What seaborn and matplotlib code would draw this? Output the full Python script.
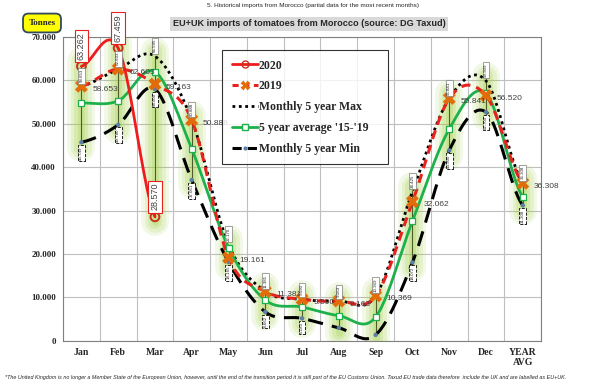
import numpy as np
import pandas as pd
import matplotlib
matplotlib.use("Agg")
import matplotlib.pyplot as plt
import seaborn as sns
from matplotlib.lines import Line2D
from matplotlib.ticker import FuncFormatter

months = ["Jan", "Feb", "Mar", "Apr", "May", "Jun", "Jul", "Aug", "Sep", "Oct", "Nov", "Dec", "YEAR\nAVG"]
y2020 = [63262, 67459, 28570]
y2019 = [58653, 62603, 59163, 50888, 19161, 11381, 9590, 9163, 10369, 32062, 55841, 56520, 36308]
max5 = [58653, 62603, 65595, 50888, 22170, 11381, 9590, 9163, 10369, 34425, 55841, 59909, 36308]
avg5 = [54800, 55300, 62000, 44200, 21500, 9400, 7800, 5800, 5500, 27600, 48800, 57000, 33200]
min5 = [45749, 49780, 58000, 37061, 18165, 6662, 5183, 3000, 1380, 18072, 43900, 52700, 31208]

sns.set_style("white")
plt.rcParams["font.family"] = ["Liberation Serif", "DejaVu Serif"]


def fmt(v, pos=None):
    return f"{int(v):,}".replace(",", ".")


def smooth(vals, n=24):
    # excel-like smoothed line (catmull-rom through the points)
    y = np.asarray(vals, dtype=float)
    p = np.concatenate([[y[0]], y, [y[-1]]])
    xs, ys = [], []
    for i in range(len(y) - 1):
        p0, p1, p2, p3 = p[i], p[i + 1], p[i + 2], p[i + 3]
        m1 = (p2 - p0) / 2
        m2 = (p3 - p1) / 2
        t = np.linspace(0, 1, n, endpoint=(i == len(y) - 2))
        h00 = 2 * t**3 - 3 * t**2 + 1
        h10 = t**3 - 2 * t**2 + t
        h01 = -2 * t**3 + 3 * t**2
        h11 = t**3 - t**2
        xs.append(i + t)
        ys.append(h00 * p1 + h10 * m1 + h01 * p2 + h11 * m2)
    return np.concatenate(xs), np.concatenate(ys)


fig = plt.figure(figsize=(6, 3.9), dpi=100)
ax = fig.add_axes([0.105, 0.126, 0.797, 0.779])

# glow + range lines per month
for i in range(len(months)):
    vals = [y2019[i], max5[i], avg5[i], min5[i]]
    if i < len(y2020):
        vals.append(y2020[i])
    lo, hi = min(vals), max(vals)
    for lw, a in [(20, 0.12), (15, 0.15), (10, 0.18), (5, 0.22)]:
        ax.plot([i, i], [lo - 1200, hi + 1200], color="#9ACD32", lw=lw, alpha=a,
                solid_capstyle="round", zorder=1)
    ax.plot([i, i], [lo, hi], color="#4F5B2B", lw=0.8, zorder=2)

xs, ys = smooth(max5)
ax.plot(xs, ys, color="black", lw=2, ls=(0, (1, 1.3)), zorder=3)
xs, ys = smooth(min5)
ax.plot(xs, ys, color="black", lw=2.2, ls=(0, (5, 3)), zorder=3)
xs, ys = smooth(avg5)
ax.plot(xs, ys, color="#1DB14B", lw=2, zorder=4)
xs, ys = smooth(y2019)
ax.plot(xs, ys, color="#E8231E", lw=2.2, ls=(0, (3, 2)), zorder=5)
xs, ys = smooth(y2020)
ax.plot(xs, ys, color="#EE1C1C", lw=2, zorder=6)

idx = list(range(len(months)))
sns.scatterplot(x=idx, y=min5, ax=ax, color="#5B7FA6", s=10, edgecolor="none", zorder=7)
sns.scatterplot(x=idx, y=avg5, ax=ax, marker="s", s=22, facecolor="white",
                edgecolor="#1DB14B", linewidth=0.9, zorder=7)
sns.scatterplot(x=idx, y=y2019, ax=ax, marker="X", s=85, color="#E26B0A",
                edgecolor="none", zorder=8)
sns.scatterplot(x=idx[:len(y2020)], y=y2020, ax=ax, marker="o", s=40, facecolor="none",
                edgecolor="#C8321C", linewidth=1.4, zorder=8)

# value labels
for i in idx:
    ax.text(i + 0.3, y2019[i] - 700, fmt(y2019[i]), fontsize=6, color="#404040",
            family="Liberation Sans", ha="left", va="center", zorder=9)
    ax.text(i, max5[i] + 900, fmt(max5[i]), rotation=90, fontsize=3.2, family="Liberation Sans",
            ha="center", va="bottom", zorder=9,
            bbox=dict(boxstyle="square,pad=0.3", fc="white", ec="#7F7F7F", lw=0.5))
    if min5[i] > 5000:
        ax.text(i, min5[i] - 900, fmt(min5[i]), rotation=90, fontsize=3.2, family="Liberation Sans",
                ha="center", va="top", zorder=9,
                bbox=dict(boxstyle="square,pad=0.3", fc="white", ec="black", lw=0.6, ls="--"))
for i, v in enumerate(y2020):
    ax.text(i, v + 1500, fmt(v), rotation=90, fontsize=6.5, family="Liberation Sans",
            color="#404040", ha="center", va="bottom", zorder=9, clip_on=False,
            bbox=dict(boxstyle="square,pad=0.25", fc="white", ec="#E8211F", lw=0.8))

ax.set_xlim(-0.5, len(months) - 0.5)
ax.set_ylim(0, 70000)
ax.set_yticks(range(0, 70001, 10000))
ax.yaxis.set_major_formatter(FuncFormatter(fmt))
ax.set_xticks(idx)
ax.set_xticklabels(months, fontweight="bold", fontsize=7)
ax.set_xticks(np.arange(-0.5, len(months), 1), minor=True)
for lab in ax.get_yticklabels():
    lab.set_fontweight("bold")
    lab.set_fontsize(6.5)
ax.tick_params(axis="both", which="both", length=0, pad=5)
ax.grid(True, axis="y", which="major", color="#BFBFBF", lw=0.8, zorder=0)
ax.grid(True, axis="x", which="minor", color="#BFBFBF", lw=0.8, zorder=0)
ax.set_axisbelow(True)
for side in ["top", "right", "bottom"]:
    ax.spines[side].set_color("#808080")
    ax.spines[side].set_linestyle((0, (2, 1)))
    ax.spines[side].set_linewidth(0.8)
ax.spines["left"].set_color("#808080")
ax.spines["left"].set_linewidth(0.8)

handles = [
    Line2D([], [], color="#EE1C1C", lw=2, marker="o", mfc="none", mec="#C8321C", ms=5),
    Line2D([], [], color="#E8231E", lw=2.2, ls=(0, (2, 1.5)), marker="X", mfc="#E26B0A",
           mec="none", ms=7),
    Line2D([], [], color="black", lw=2, ls=(0, (1, 1.3))),
    Line2D([], [], color="#1DB14B", lw=2, marker="s", mfc="white", mec="#1DB14B", ms=4),
    Line2D([], [], color="black", lw=2.2, ls=(0, (3, 2)), marker="o", mfc="#5B7FA6",
           mec="none", ms=3),
]
labels = ["2020", "2019", "Monthly 5 year Max", "5 year average '15-'19", "Monthly 5 year Min"]
leg = ax.legend(handles, labels, loc="upper left", bbox_to_anchor=(0.333, 0.628, 0.347, 0.329),
                mode="expand", borderaxespad=0, frameon=True, fancybox=False,
                prop=dict(family="Liberation Serif", weight="bold", size=8.5),
                labelspacing=0.75, handlelength=2.2, handletextpad=0.1, borderpad=0.8)
leg.get_frame().set_edgecolor("black")
leg.get_frame().set_linewidth(0.8)
leg.set_zorder(10)

fig.text(0.522, 1 - 6 / 390, "5. Historical imports from Morocco (partial data for the most recent months)",
         fontsize=4.6, family="Liberation Sans", ha="center", va="center")
title = fig.text(0.515, 1 - 24 / 390, "EU+UK imports of tomatoes from Morocco (source: DG Taxud)",
                 fontsize=6.6, fontweight="bold", family="Liberation Sans", ha="center", va="center",
                 bbox=dict(boxstyle="square,pad=0.25", fc="#D9D9D9", ec="none"))
fig.text(42 / 600, 1 - 23 / 390, "Tonnes", fontsize=6.5, fontweight="bold", ha="center", va="center",
         bbox=dict(boxstyle="round,pad=0.6", fc="#FFFF00", ec="#31495A", lw=1.3))
fig.text(0.008, 1 - 377 / 390,
         "*The United Kingdom is no longer a Member State of the European Union, however, until the end of the "
         "transition period it is still part of the EU Customs Union. Taxud EU trade data therefore  include the UK "
         "and are labelled as EU+UK.",
         fontsize=3.9, style="italic", family="Liberation Sans", ha="left", va="center")

# underline the title
fig.canvas.draw()
bb = title.get_window_extent().transformed(fig.transFigure.inverted())
fig.add_artist(Line2D([bb.x0, bb.x1], [bb.y0 - 0.002, bb.y0 - 0.002], color="black", lw=0.8,
                      transform=fig.transFigure))

fig.savefig("out.png", dpi=100)
